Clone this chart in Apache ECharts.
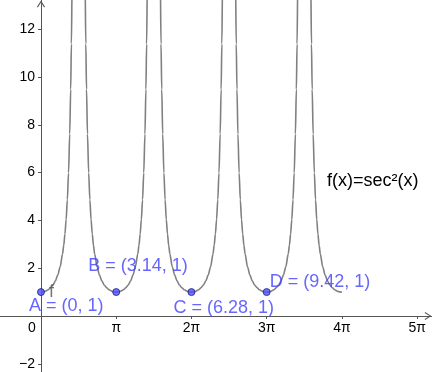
<!DOCTYPE html>
<html>
<head>
<meta charset="utf-8">
<script src="https://cdn.jsdelivr.net/npm/echarts@6/dist/echarts.min.js"></script>
<style>html,body{margin:0;padding:0;background:#fff}#c{width:432px;height:372px}</style>
</head>
<body>
<div id="c"></div>
<script>
// Half-branch profile of the plotted curve:
// horizontal distance from each minimum, and the curve height there.
var halfOffsets = [0, 0.1, 0.2, 0.3, 0.4, 0.5, 0.6, 0.7, 0.8, 0.9, 0.95, 1.0, 1.05, 1.1, 1.15, 1.2, 1.24, 1.27, 1.3, 1.33];
var halfValues  = [1, 1.010, 1.041, 1.096, 1.179, 1.298, 1.468, 1.709, 2.060, 2.588, 2.955, 3.426, 4.039, 4.860, 5.993, 7.616, 9.479, 11.385, 13.975, 17.601];
// Minima of the curve (x positions); first and last branch are half branches
var minimaX = [0, Math.PI, 2 * Math.PI, 3 * Math.PI, 4 * Math.PI];

// Named points
var pointNames = ['A', 'B', 'C', 'D'];
var pointX = [0, Math.PI, 2 * Math.PI, 3 * Math.PI];
var pointY = [1, 1, 1, 1];
var pointLabels = ['A = (0, 1)', 'B = (3.14, 1)', 'C = (6.28, 1)', 'D = (9.42, 1)'];

// Axis ticks
var xTickValues = [0, Math.PI, 2 * Math.PI, 3 * Math.PI, 4 * Math.PI, 5 * Math.PI];
var xTickLabels = ['0', 'π', '2π', '3π', '4π', '5π'];
var yTickValues = [-2, 2, 4, 6, 8, 10, 12];
var yTickLabels = ['\u22122', '2', '4', '6', '8', '10', '12'];

var funcName = 'f';
var funcText = 'f(x)=sec\u00B2(x)';

// view window
var xMin = -1.712, xMax = 16.33, yMin = -2.343, yMax = 13.22;

// build curve
var curve = [];
for (var k = 0; k < minimaX.length; k++) {
  var c = minimaX[k];
  if (k > 0) {
    for (var i = halfOffsets.length - 1; i >= 1; i--) curve.push([c - halfOffsets[i], halfValues[i]]);
  }
  curve.push([c, halfValues[0]]);
  if (k < minimaX.length - 1) {
    for (var j = 1; j < halfOffsets.length; j++) curve.push([c + halfOffsets[j], halfValues[j]]);
  }
}

var labelOffsets = [[-12, 14], [-28, -26], [-18, 16], [3, -10]];
var pts = pointX.map(function (x, i) {
  return {
    name: pointNames[i],
    value: [x, pointY[i]],
    label: { offset: labelOffsets[i], formatter: pointLabels[i] }
  };
});

var FONT = "'Liberation Sans', Arial, sans-serif";
var AXIS = '#555555';
var arrow = 'path://M0,7 L4.5,0 L9,7 L8,7.6 L4.5,2 L1,7.6 Z';

var el = document.getElementById('c');
var W = el.clientWidth, H = el.clientHeight;
// place the axes where the other axis is zero (GeoGebra style crossing axes)
var yAxisOffset = -W * (0 - xMin) / (xMax - xMin);
var xAxisOffset = -H * (0 - yMin) / (yMax - yMin);

var chart = echarts.init(el);
chart.setOption({
  animation: false,
  backgroundColor: '#ffffff',
  title: {
    text: funcText, left: 322, top: 167,
    textStyle: { fontFamily: FONT, fontSize: 18, fontWeight: 'normal', color: '#000' }
  },
  grid: { left: 0, right: 0, top: 0, bottom: 0, containLabel: false, outerBoundsMode: 'none' },
  xAxis: {
    type: 'value', min: xMin, max: xMax, position: 'bottom', offset: xAxisOffset,
    axisLine: { onZero: false, lineStyle: { color: AXIS, width: 1 }, symbol: ['none', arrow], symbolSize: [8, 7], symbolOffset: [0, -4] },
    axisTick: { show: true, length: 3, lineStyle: { color: AXIS }, customValues: xTickValues.slice(1) },
    axisLabel: {
      margin: 5, fontFamily: FONT, fontSize: 14, color: '#000',
      customValues: xTickValues,
      formatter: function (v) {
        var idx = -1;
        for (var i = 0; i < xTickValues.length; i++) if (Math.abs(xTickValues[i] - v) < 1e-6) idx = i;
        if (idx === 0) return '{o|' + xTickLabels[0] + '}';
        return idx >= 0 ? xTickLabels[idx] : '';
      },
      rich: { o: { fontFamily: FONT, fontSize: 14, color: '#000', padding: [0, 18, 0, 0] } }
    },
    splitLine: { show: false }
  },
  yAxis: {
    type: 'value', min: yMin, max: yMax, position: 'left', offset: yAxisOffset,
    axisLine: { onZero: false, lineStyle: { color: AXIS, width: 1 }, symbol: ['none', arrow], symbolSize: [8, 7], symbolOffset: [0, -4] },
    axisTick: { show: true, length: 3, lineStyle: { color: AXIS }, customValues: yTickValues },
    axisLabel: {
      margin: 6, fontFamily: FONT, fontSize: 14, color: '#000',
      customValues: yTickValues,
      formatter: function (v) {
        for (var i = 0; i < yTickValues.length; i++) if (Math.abs(yTickValues[i] - v) < 1e-6) return yTickLabels[i];
        return '';
      }
    },
    splitLine: { show: false }
  },
  series: [
    {
      type: 'line', name: funcName, data: curve, showSymbol: false, symbol: 'none',
      smooth: 0.3, smoothMonotone: 'x', clip: true,
      lineStyle: { color: '#808080', width: 1.6 }, z: 2
    },
    {
      type: 'scatter', name: 'fLabel', data: [curve[0]], symbolSize: 0, z: 3,
      label: { show: true, position: 'inside', align: 'left', verticalAlign: 'middle', offset: [8, 0],
        formatter: funcName, fontFamily: FONT, fontSize: 18, color: '#555' }
    },
    {
      type: 'scatter', name: 'points', data: pts, symbolSize: 7, z: 4,
      itemStyle: { color: '#4d4dff', borderColor: '#1f1f80', borderWidth: 1 },
      label: { show: true, position: 'inside', align: 'left', verticalAlign: 'middle',
        fontFamily: FONT, fontSize: 18, color: '#4040ff' }
    }
  ]
});
</script>
</body>
</html>
